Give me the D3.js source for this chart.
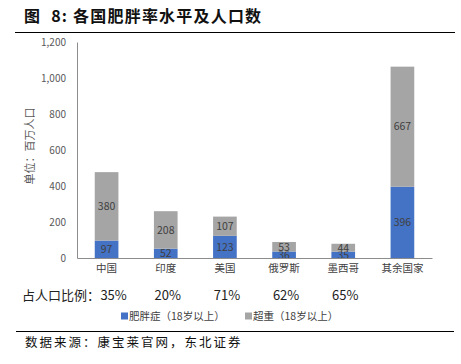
<!DOCTYPE html>
<html>
<head>
<meta charset="utf-8">
<script src="https://cdn.jsdelivr.net/npm/d3@7"></script>
<style>
  body { margin: 0; background: #fff; }
  text { font-family: "Noto Sans CJK SC", "Noto Sans", sans-serif; }
</style>
</head>
<body>
<div id="chart"></div>
<script>
const categories = ["中国", "印度", "美国", "俄罗斯", "墨西哥", "其余国家"];
const obese = [97, 52, 123, 36, 35, 396];
const overweight = [380, 208, 107, 53, 44, 667];
const shares = ["35%", "20%", "71%", "62%", "65%"];
const yTicks = [0, 200, 400, 600, 800, 1000, 1200];
const seriesNames = ["肥胖症（18岁以上）", "超重（18岁以上）"];
const colors = ["#4472C4", "#A5A5A5"];

const w = 461, h = 364;
const svg = d3.select("#chart").append("svg").attr("width", w).attr("height", h);

// title
const title = svg.append("text").attr("x", 24).attr("y", 22)
  .attr("font-size", 16).attr("font-weight", "bold").attr("fill", "#111")
  .attr("letter-spacing", 1.2);
title.append("tspan").text("图");
title.append("tspan").attr("dx", 10).text("8: 各国肥胖率水平及人口数");
svg.append("line").attr("x1", 15).attr("x2", 455).attr("y1", 32.5).attr("y2", 32.5)
  .attr("stroke", "#000").attr("stroke-width", 1.2);

const x = d3.scaleBand().domain(categories).range([77, 432]).paddingInner(0.6).paddingOuter(0.3);
const y = d3.scaleLinear().domain([0, 1200]).range([258, 42]);

// y axis
const yAxis = svg.append("g").attr("transform", "translate(77,0)")
  .call(d3.axisLeft(y).tickValues(yTicks).tickSize(0).tickPadding(11).tickFormat(d3.format(",")));
yAxis.select(".domain").attr("stroke", "#8c8c8c");
yAxis.selectAll("text").attr("font-size", 10).attr("fill", "#595959")
  .attr("font-family", "Liberation Sans, Arial, sans-serif");

svg.append("text").attr("transform", "translate(34,146) rotate(-90)")
  .attr("text-anchor", "middle").attr("font-size", 11).attr("fill", "#595959")
  .text("单位：百万人口");

// stacked bars
const rows = categories.map((c, i) => ({ cat: c, obese: obese[i], overweight: overweight[i] }));
const stack = d3.stack().keys(["obese", "overweight"])(rows);

const layers = svg.selectAll("g.layer").data(stack).enter().append("g")
  .attr("class", "layer").attr("fill", (d, i) => colors[i]);
layers.selectAll("rect").data(d => d).enter().append("rect")
  .attr("x", d => x(d.data.cat))
  .attr("width", x.bandwidth())
  .attr("y", d => y(d[1]))
  .attr("height", d => y(d[0]) - y(d[1]));

layers.selectAll("text").data(d => d).enter().append("text")
  .attr("x", d => x(d.data.cat) + x.bandwidth() / 2)
  .attr("y", d => (y(d[0]) + y(d[1])) / 2)
  .attr("dy", "0.36em")
  .attr("text-anchor", "middle").attr("font-size", 10.5).attr("fill", "#404040")
  .attr("font-family", "Liberation Sans, Arial, sans-serif")
  .text(d => d[1] - d[0]);

// x axis
const xAxis = svg.append("g").attr("transform", "translate(0,258)")
  .call(d3.axisBottom(x).tickSize(0).tickPadding(7).tickSizeOuter(0));
xAxis.select(".domain").attr("stroke", "#8c8c8c");
xAxis.selectAll("text").attr("font-size", 10.5).attr("fill", "#404040");

// share row
svg.append("text").attr("x", 22).attr("y", 300)
  .attr("font-size", 13).attr("fill", "#222").text("占人口比例：");
svg.selectAll("text.share").data(shares).enter().append("text")
  .attr("class", "share")
  .attr("x", (d, i) => x(categories[i]) + x.bandwidth() / 2 + (i === 0 ? 7 : 2))
  .attr("y", 300).attr("text-anchor", "middle")
  .attr("font-size", 13).attr("fill", "#222")
  .text(d => d);

// legend
const legendX = [121, 245];
const lg = svg.selectAll("g.legend").data(seriesNames).enter().append("g")
  .attr("class", "legend").attr("transform", (d, i) => `translate(${legendX[i]},316)`);
lg.append("rect").attr("x", 0).attr("y", -3.5).attr("width", 7).attr("height", 7)
  .attr("fill", (d, i) => colors[i]);
lg.append("text").attr("x", 8).attr("y", 0).attr("dy", "0.36em")
  .attr("font-size", 10.5).attr("fill", "#404040").text(d => d);

// source
svg.append("line").attr("x1", 16).attr("x2", 454).attr("y1", 331.5).attr("y2", 331.5)
  .attr("stroke", "#000").attr("stroke-width", 1.2);
svg.append("text").attr("x", 25).attr("y", 347)
  .attr("font-size", 12.5).attr("letter-spacing", 2).attr("fill", "#111")
  .text("数据来源：康宝莱官网，东北证券");
</script>
</body>
</html>
